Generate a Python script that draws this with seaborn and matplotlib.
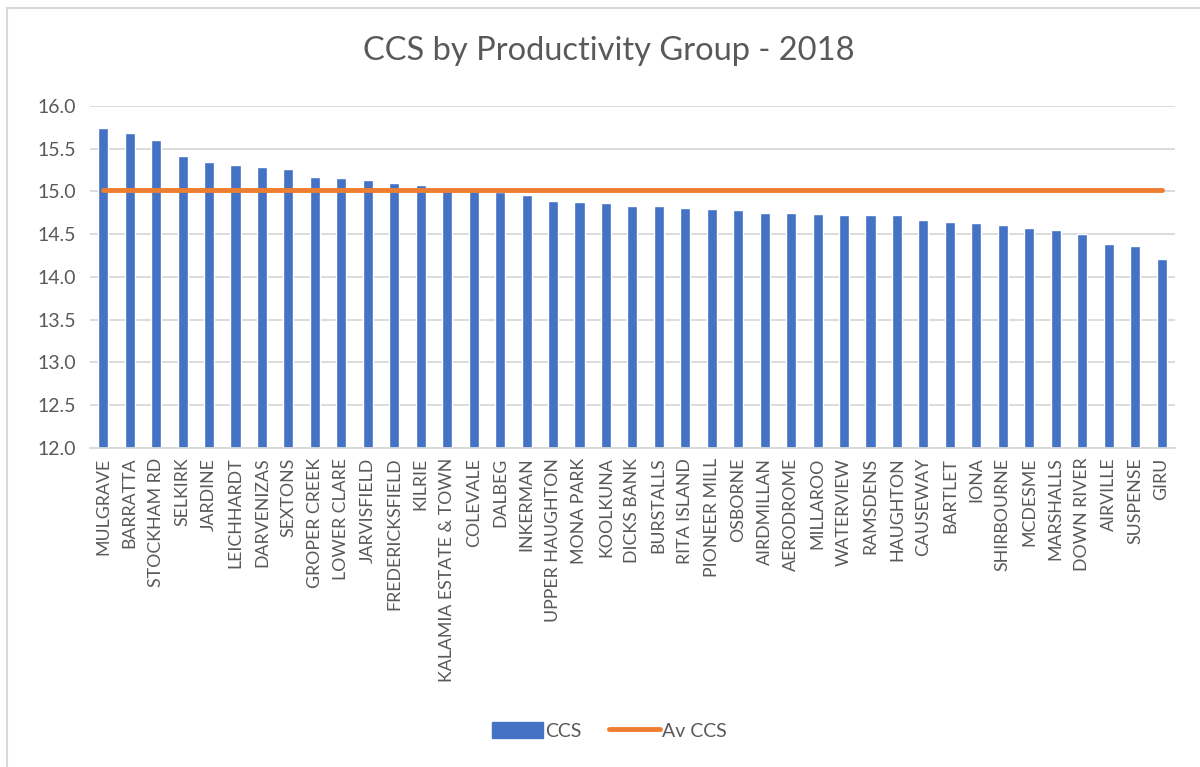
import matplotlib
matplotlib.use("Agg")
import matplotlib.pyplot as plt
import seaborn as sns
import pandas as pd
from matplotlib.lines import Line2D

# Datos del gráfico
grupos = ["MULGRAVE", "BARRATTA", "STOCKHAM RD", "SELKIRK", "JARDINE", "LEICHHARDT",
          "DARVENIZAS", "SEXTONS", "GROPER CREEK", "LOWER CLARE", "JARVISFIELD",
          "FREDERICKSFIELD", "KILRIE", "KALAMIA ESTATE & TOWN", "COLEVALE", "DALBEG",
          "INKERMAN", "UPPER HAUGHTON", "MONA PARK", "KOOLKUNA", "DICKS BANK",
          "BURSTALLS", "RITA ISLAND", "PIONEER MILL", "OSBORNE", "AIRDMILLAN",
          "AERODROME", "MILLAROO", "WATERVIEW", "RAMSDENS", "HAUGHTON", "CAUSEWAY",
          "BARTLET", "IONA", "SHIRBOURNE", "MCDESME", "MARSHALLS", "DOWN RIVER",
          "AIRVILLE", "SUSPENSE", "GIRU"]
ccs = [15.74, 15.68, 15.60, 15.41, 15.34, 15.31, 15.28, 15.26, 15.17, 15.16, 15.13,
       15.10, 15.07, 15.00, 15.00, 14.99, 14.96, 14.89, 14.88, 14.86, 14.83, 14.83,
       14.81, 14.79, 14.78, 14.75, 14.75, 14.74, 14.72, 14.72, 14.72, 14.66, 14.64,
       14.63, 14.61, 14.57, 14.55, 14.50, 14.38, 14.36, 14.21]
av_ccs = 15.02

df = pd.DataFrame({"grupo": grupos, "ccs": ccs, "av": [av_ccs] * len(grupos)})

sns.set_theme(style="white")
plt.rcParams["font.family"] = ["Lato", "DejaVu Sans"]

azul = "#4472C4"
naranja = "#ED7D31"
gris = "#595959"

fig = plt.figure(figsize=(12, 7.67), dpi=100)
ax = fig.add_axes([0.075, 0.416, 0.904, 0.446])

sns.barplot(data=df, x="grupo", y="ccs", color=azul, width=0.38, ax=ax, saturation=1)
sns.lineplot(data=df, x="grupo", y="av", color=naranja, linewidth=3.5, ax=ax, sort=False)

ax.set_ylim(12.0, 16.0)
ax.set_xlim(-0.5, len(grupos) - 0.5)
ax.set_yticks([12.0, 12.5, 13.0, 13.5, 14.0, 14.5, 15.0, 15.5, 16.0])
ax.set_yticklabels([f"{v:.1f}" for v in ax.get_yticks()], fontsize=14, color=gris)
ax.set_xticks(range(len(grupos)))
ax.set_xticklabels(grupos, rotation=90, fontsize=12.8, color=gris)
ax.tick_params(axis="both", length=0, pad=10)
ax.tick_params(axis="x", pad=7)
ax.set_xlabel("")
ax.set_ylabel("")
ax.yaxis.grid(True, color="#D9D9D9", linewidth=1.3)
ax.set_axisbelow(True)
for s in ["top", "right", "left"]:
    ax.spines[s].set_visible(False)
ax.spines["bottom"].set_color("#D9D9D9")
ax.spines["bottom"].set_linewidth(1.3)

fig.text(0.507, 0.934, "CCS by Productivity Group - 2018", ha="center", va="center",
         fontsize=23.5, color=gris)

handles = [plt.Rectangle((0, 0), 1, 1, color=azul),
           Line2D([0], [0], color=naranja, linewidth=3.5)]
fig.legend(handles, ["CCS", "Av CCS"], loc="center", bbox_to_anchor=(0.508, 0.047),
           ncol=2, frameon=False, fontsize=14, labelcolor=gris, handlelength=2.6,
           handletextpad=0.15, columnspacing=1.4, handleheight=0.9)

# borde del gráfico (arriba e izquierda)
fig.add_artist(Line2D([7 / 1200, 1.0], [1 - 8 / 767, 1 - 8 / 767], color="#D9D9D9", linewidth=1.5))
fig.add_artist(Line2D([7 / 1200, 7 / 1200], [0.0, 1 - 8 / 767], color="#D9D9D9", linewidth=1.5))

fig.savefig("out.png", dpi=100)
